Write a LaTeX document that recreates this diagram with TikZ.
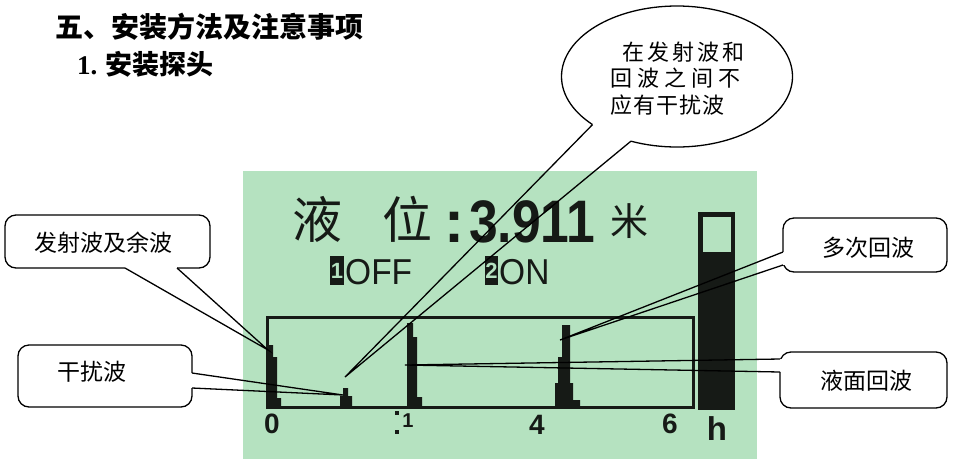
\documentclass[tikz,border=0pt]{standalone}
\usepackage{fontspec}
\setmainfont{Liberation Serif}
\newfontfamily\cjk{Noto Sans CJK SC}
\newfontfamily\lcd{Liberation Sans}
\definecolor{lcdbg}{RGB}{181,226,192}
\definecolor{lcdink}{RGB}{22,26,22}
\begin{document}
\begin{tikzpicture}[x=1pt,y=-1pt,
  cbox/.style={draw=black, line width=1.3pt, rounded corners=11pt},
  tail/.style={draw=black, line width=1.3pt, line join=miter},
  gap/.style={draw=white, line width=3.5pt},
  ctext/.style={font=\cjk\fontsize{23}{23}\selectfont, inner sep=0pt},
  etext/.style={font=\cjk\fontsize{22}{22}\selectfont, inner sep=0pt, anchor=west},
  ink/.style={fill=lcdink},
  axislbl/.style={font=\lcd\bfseries\fontsize{28}{28}\selectfont, text=lcdink, inner sep=0pt, anchor=base},
  lcdcjk/.style={font=\cjk\fontsize{50}{50}\selectfont, text=lcdink, inner sep=0pt}
]
\fill[white] (0,0) rectangle (953,459);
\useasboundingbox (0,0) rectangle (953,459);

% titles
\node[anchor=west, font=\cjk\bfseries\fontsize{28}{28}\selectfont, inner sep=0pt] (title) at (55,27) {五、安装方法及注意事项};
\node[anchor=west, inner sep=0pt] (sub) at (77,64) {{\bfseries\fontsize{27}{27}\selectfont 1.}\hspace{8pt}{\cjk\bfseries\fontsize{27}{27}\selectfont 安装探头}};

% LCD panel
\fill[lcdbg] (243,171) rectangle (757,459);
\node[lcdcjk] (ye) at (317,219) {液};
\node[lcdcjk] (wei) at (407,219) {位};
\node[font=\lcd\bfseries\fontsize{60}{60}\selectfont, text=lcdink, inner sep=0pt, anchor=base] (colon) at (454,242) {:};
\node[font=\lcd\bfseries\fontsize{60}{60}\selectfont, text=lcdink, inner sep=0pt, anchor=base west] (val) at (469,242) {\scalebox{0.86}[1]{3.911}};
\node[font=\cjk\fontsize{38}{38}\selectfont, text=lcdink, inner sep=0pt] (mi) at (629,221) {米};

% status line
\fill[ink] (330,256) rectangle (344,285);
\node[font=\lcd\bfseries\fontsize{22}{22}\selectfont, text=lcdbg, inner sep=0pt] (k1) at (337,271) {1};
\node[font=\lcd\fontsize{36}{36}\selectfont, text=lcdink, inner sep=0pt, anchor=base west] (off) at (345,284) {\scalebox{0.93}[1]{OFF}};
\fill[ink] (485,256) rectangle (498,285);
\node[font=\lcd\bfseries\fontsize{22}{22}\selectfont, text=lcdbg, inner sep=0pt] (k2) at (491.5,271) {2};
\node[font=\lcd\fontsize{36}{36}\selectfont, text=lcdink, inner sep=0pt, anchor=base west] (on) at (499,284) {\scalebox{0.93}[1]{ON}};

% graph frame
\draw[lcdink, line width=3pt] (267,317) rectangle (693,407);
% peaks
\fill[ink] (267,407) -- (267,357) -- (269,357) -- (269,345) -- (273,345) -- (273,357) -- (277,357) -- (277,398) -- (281,398) -- (281,407) -- cycle;
\fill[ink] (407,407) -- (407,323) -- (413,323) -- (413,337) -- (417,337) -- (417,397) -- (422,397) -- (422,407) -- cycle;
\fill[ink] (562,325) -- (570,325) -- (570,383) -- (573,383) -- (573,400) -- (580,400) -- (580,407) -- (555,407) -- (555,383) -- (558,383) -- (558,357) -- (562,357) -- cycle;
\fill[ink] (343,388) -- (348,388) -- (348,396) -- (352,396) -- (352,407) -- (340,407) -- (340,396) -- (343,396) -- cycle;
% level bar
\fill[ink] (698,212) rectangle (735,410);
\fill[lcdbg] (703,217) rectangle (731,252);
% axis labels
\node[axislbl] (a0) at (272,433) {0};
\fill[ink] (395,411) rectangle (399,415);
\fill[ink] (395,430) rectangle (399,434);
\node[axislbl, font=\lcd\bfseries\fontsize{20}{20}\selectfont] (a1) at (408,427) {1};
\node[axislbl] (a4) at (537,434) {4};
\node[axislbl] (a6) at (670,433) {6};
\node[axislbl, font=\lcd\bfseries\fontsize{33}{33}\selectfont] (ah) at (717,440) {h};

% tips
\coordinate (tipA) at (268,350);
\coordinate (tipB) at (343,395);
\coordinate (tipC) at (560,340);
\coordinate (tipD) at (405,365);
\coordinate (tipE) at (345,377);

% callout A
\draw[cbox] (5,215) rectangle (210,268);
\coordinate (A1) at (125,268); \coordinate (A2) at (177,268);
\draw[gap] (A1) -- (A2);
\draw[tail] (A1) -- (tipA) -- (A2);
\node[ctext] (tA) at (103,243) {发射波及余波};

% callout B
\draw[cbox] (18,345) rectangle (192,407);
\coordinate (B1) at (192,373); \coordinate (B2) at (192,388);
\draw[gap] (B1) -- (B2);
\draw[tail] (B1) -- (tipB) -- (B2);
\node[ctext] (tB) at (92,372) {干扰波};

% callout C
\draw[cbox] (783,218) rectangle (947,272);
\coordinate (C1) at (783,252); \coordinate (C2) at (783,265);
\draw[gap] (C1) -- (C2);
\draw[tail] (C1) -- (tipC) -- (C2);
\node[ctext] (tC) at (868,248) {多次回波};

% callout D
\draw[cbox] (780,352) rectangle (947,408);
\coordinate (D1) at (780,359); \coordinate (D2) at (780,372);
\draw[gap] (D1) -- (D2);
\draw[tail] (D1) -- (tipD) -- (D2);
\node[ctext] (tD) at (866,381) {液面回波};

% ellipse callout
\coordinate (ec) at (677,76.5);
\draw[cbox] (ec) ellipse [x radius=115.5, y radius=70.5];
\coordinate (E1) at ([shift={(137:115.5 and 70.5)}]ec);
\coordinate (E2) at ([shift={(113.5:115.5 and 70.5)}]ec);
\draw[gap] (E1) arc[start angle=137, end angle=113.5, x radius=115.5, y radius=70.5];
\draw[tail] (E1) -- (tipE) -- (E2);
\node[etext] (e1) at (622,52) {在\hspace{3pt}发\hspace{3pt}射\hspace{3pt}波\hspace{3pt}和};
\node[etext] (e2) at (610,78) {回\hspace{5pt}波\hspace{5pt}之\hspace{5pt}间\hspace{5pt}不};
\node[etext] (e3) at (610,105) {应\hspace{1pt}有\hspace{1pt}干\hspace{1pt}扰\hspace{1pt}波};
\end{tikzpicture}
\end{document}
